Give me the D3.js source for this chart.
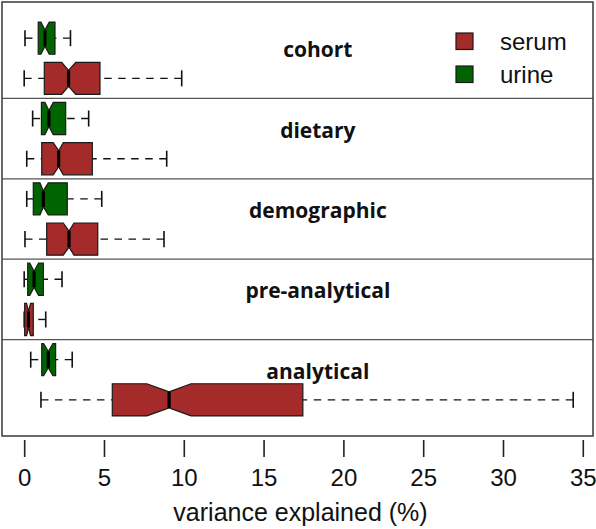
<!DOCTYPE html>
<html>
<head>
<meta charset="utf-8">
<script src="https://cdn.jsdelivr.net/npm/d3@7"></script>
<style>
  html, body { margin: 0; padding: 0; background: #fff; }
  svg { display: block; }
</style>
</head>
<body>
<svg id="chart" width="596" height="529"></svg>
<script>
// ---- data ----
const groups = ["cohort", "dietary", "demographic", "pre-analytical", "analytical"];
const seriesNames = ["serum", "urine"];
const seriesColors = ["#a52a2a", "#006400"];
// each row: [whisker low, Q1, notch low, median, notch high, Q3, whisker high]
const urineStats = [
  [0.05, 0.88, 1.05, 1.30, 1.57, 1.93, 2.90],
  [0.53, 1.08, 1.30, 1.55, 1.82, 2.60, 4.04],
  [0.16, 0.57, 0.99, 1.20, 1.51, 2.70, 4.86],
  [0.00, 0.22, 0.35, 0.62, 0.90, 1.20, 2.37],
  [0.41, 1.10, 1.22, 1.51, 1.80, 1.97, 3.01]
];
const serumStats = [
  [0.00, 1.26, 2.35, 2.78, 3.23, 4.75, 9.87],
  [0.16, 1.10, 1.82, 2.16, 2.45, 4.27, 8.93],
  [0.05, 1.41, 2.45, 2.81, 3.12, 4.61, 8.76],
  [0.00, 0.03, 0.15, 0.27, 0.40, 0.57, 1.35],
  [1.05, 5.52, 7.69, 9.08, 10.45, 17.46, 34.4]
];
const xTicks = [0, 5, 10, 15, 20, 25, 30, 35];
const xTitle = "variance explained (%)";
const xDomain = [-1.39, 35.64];
const labelX = 18.4;

// ---- layout ----
(function () {
const svg = d3.select("#chart");
const pLeft = 2, pRight = 593, pTop = 2, pBottom = 436;
const x = d3.scaleLinear().domain(xDomain).range([pLeft, pRight]);
const y = d3.scaleLinear().domain([0.1, 10.9]).range([pTop, pBottom]);
const boxW = 0.8;                      // box width in position units
const halfW = (y(boxW) - y(0)) / 2;    // half box height in px
const notchFrac = 0.5, stapleFrac = 0.5;

svg.append("rect").attr("width", 596).attr("height", 529).attr("fill", "#fff");

// separators between groups
groups.slice(0, -1).forEach((g, i) => {
  svg.append("line")
    .attr("x1", pLeft).attr("x2", pRight)
    .attr("y1", y(2 * i + 2.5)).attr("y2", y(2 * i + 2.5))
    .attr("stroke", "#555").attr("stroke-width", 1.3);
});

function drawBox(s, pos, color) {
  const cy = y(pos);
  const g = svg.append("g");
  const [wl, q1, cl, md, ch, q3, wh] = s;
  [[wl, q1], [wh, q3]].forEach(([a, b]) => {
    g.append("line")
      .attr("x1", x(a)).attr("x2", x(b)).attr("y1", cy).attr("y2", cy)
      .attr("stroke", "#111").attr("stroke-width", 1.4)
      .attr("stroke-dasharray", "7.5,6.5");
    g.append("line")
      .attr("x1", x(a)).attr("x2", x(a))
      .attr("y1", cy - halfW * stapleFrac).attr("y2", cy + halfW * stapleFrac)
      .attr("stroke", "#111").attr("stroke-width", 1.6);
  });
  const pts = [
    [x(q1), cy - halfW], [x(cl), cy - halfW], [x(md), cy - halfW * notchFrac],
    [x(ch), cy - halfW], [x(q3), cy - halfW], [x(q3), cy + halfW],
    [x(ch), cy + halfW], [x(md), cy + halfW * notchFrac], [x(cl), cy + halfW],
    [x(q1), cy + halfW]
  ];
  g.append("polygon")
    .attr("points", pts.map(p => p.join(",")).join(" "))
    .attr("fill", color).attr("stroke", "#1a1a1a").attr("stroke-width", 1.2)
    .attr("stroke-linejoin", "miter");
  g.append("line")
    .attr("x1", x(md)).attr("x2", x(md))
    .attr("y1", cy - halfW * notchFrac).attr("y2", cy + halfW * notchFrac)
    .attr("stroke", "#000").attr("stroke-width", 3.2);
}

groups.forEach((grp, i) => {
  drawBox(urineStats[i], 2 * i + 1, seriesColors[1]);
  drawBox(serumStats[i], 2 * i + 2, seriesColors[0]);
  svg.append("text")
    .attr("x", x(labelX)).attr("y", y(2 * i + 1.5) - 1)
    .attr("text-anchor", "middle")
    .attr("font-family", "'Open Sans', sans-serif")
    .attr("font-weight", "bold").attr("font-size", 21)
    .attr("fill", "#111")
    .text(grp);
});

svg.append("rect")
  .attr("x", pLeft).attr("y", pTop).attr("width", pRight - pLeft).attr("height", pBottom - pTop)
  .attr("fill", "none").attr("stroke", "#444").attr("stroke-width", 1.6);

const axisG = svg.append("g").attr("transform", `translate(0,${pBottom + 4})`);
axisG.call(d3.axisBottom(x).tickValues(xTicks).tickSize(17).tickPadding(12).tickFormat(d3.format("d")));
axisG.select(".domain").remove();
axisG.selectAll(".tick line").attr("stroke", "#222").attr("stroke-width", 1.6);
axisG.selectAll(".tick text")
  .attr("font-family", "'Liberation Sans', Arial, sans-serif")
  .attr("font-size", 24).attr("fill", "#111");

svg.append("text")
  .attr("x", (pLeft + pRight) / 2 + 3).attr("y", 521)
  .attr("text-anchor", "middle")
  .attr("font-family", "'Liberation Sans', Arial, sans-serif")
  .attr("font-size", 25).attr("fill", "#111")
  .text(xTitle);

seriesNames.forEach((name, i) => {
  const ly = 33 + i * 33;
  svg.append("rect")
    .attr("x", 456).attr("y", ly).attr("width", 17).attr("height", 16.5)
    .attr("fill", seriesColors[i]).attr("stroke", "#1a1a1a").attr("stroke-width", 1.2);
  svg.append("text")
    .attr("x", 500).attr("y", ly + 16.5)
    .attr("font-family", "'Liberation Sans', Arial, sans-serif")
    .attr("font-size", 24).attr("fill", "#111")
    .text(name);
});
})();
</script>
</body>
</html>
